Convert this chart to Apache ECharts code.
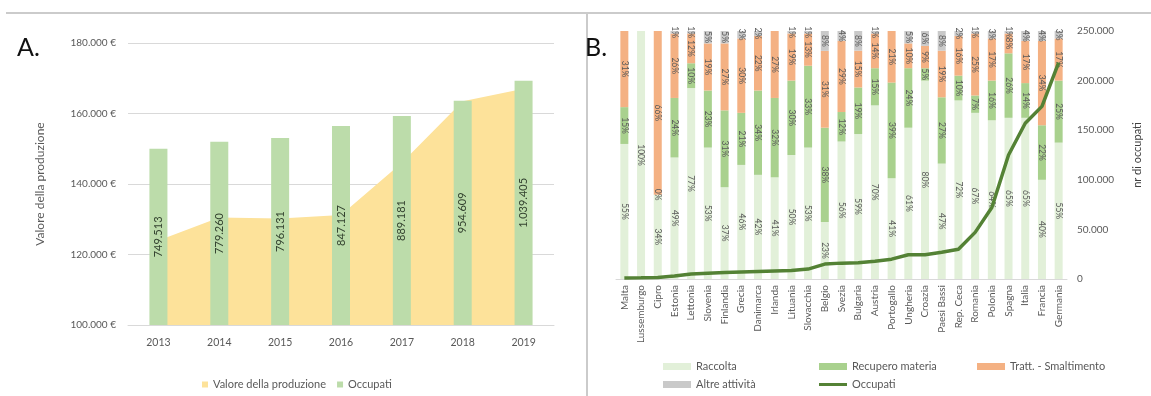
<!DOCTYPE html>
<html>
<head>
<meta charset="utf-8">
<script src="https://cdn.jsdelivr.net/npm/echarts@6/dist/echarts.min.js"></script>
<style>
  html, body { margin: 0; padding: 0; background: #ffffff; }
  #wrap { position: relative; width: 1151px; height: 396px; overflow: hidden; }
  #rule-top { position: absolute; left: 6px; top: 12px; width: 1145px; height: 0; border-top: 2px solid #cbcbcb; }
  #rule-mid { position: absolute; left: 586px; top: 12px; width: 0; height: 384px; border-left: 2px solid #cbcbcb; }
  #chartA { position: absolute; left: 0; top: 0; width: 584px; height: 396px; }
  #chartB { position: absolute; left: 578px; top: 0; width: 573px; height: 396px; }
</style>
</head>
<body>
<div id="wrap">
  <div id="rule-top"></div>
  <div id="rule-mid"></div>
  <div id="chartA"></div>
  <div id="chartB"></div>
</div>
<script>
// ---- Panel A: production value and employment, 2013-2019 ----
const anni = ['2013', '2014', '2015', '2016', '2017', '2018', '2019'];
const valoreProduzione = [124000, 130500, 130200, 131200, 146000, 163500, 167000];
const occupatiAnnui = [749513, 779260, 796131, 847127, 889181, 954609, 1039405];
const tickValore = [100000, 120000, 140000, 160000, 180000];

// ---- Panel B: share of employment by activity and employed persons per country ----
const paesi = ['Malta', 'Lussemburgo', 'Cipro', 'Estonia', 'Lettonia', 'Slovenia', 'Finlandia',
  'Grecia', 'Danimarca', 'Irlanda', 'Lituania', 'Slovacchia', 'Belgio', 'Svezia', 'Bulgaria',
  'Austria', 'Portogallo', 'Ungheria', 'Croazia', 'Paesi Bassi', 'Rep. Ceca', 'Romania',
  'Polonia', 'Spagna', 'Italia', 'Francia', 'Germania'];
const raccolta = [55, 100, 34, 49, 77, 53, 37, 46, 42, 41, 50, 53, 23, 56, 59, 70, 41, 61, 80, 47, 72, 67, 64, 65, 65, 40, 55];
const recupero = [15, null, 0, 24, 10, 23, 31, 21, 34, 32, 30, 33, 38, 12, 19, 15, 39, 24, 5, 27, 10, 7, 16, 26, 14, 22, 25];
const trattamento = [31, null, 66, 26, 12, 19, 27, 30, 22, 27, 19, 13, 31, 29, 15, 14, 21, 10, 9, 19, 16, 25, 17, 8, 17, 34, 17];
const altre = [null, null, null, 1, 1, 5, 5, 3, 2, null, 1, 1, 8, 4, 8, 1, null, 5, 6, 8, 2, 1, 3, 1, 4, 4, 3];
const occupatiPaese = [1000, 1200, 1500, 3000, 5000, 5800, 6500, 7000, 7500, 8000, 8500, 10000, 15000,
  16000, 16500, 18000, 20000, 24500, 24500, 27000, 30000, 47000, 72000, 125000, 157000, 174000, 218000];
const tickOccupati = [0, 50000, 100000, 150000, 200000, 250000];

const FONT = 'Lato, "Open Sans", sans-serif';
const GREY = '#595959';

function puntini(n) {
  return String(n).replace(/\B(?=(\d{3})+(?!\d))/g, '.');
}

// ---------------- Chart A ----------------
const chartA = echarts.init(document.getElementById('chartA'), null, { renderer: 'canvas' });
chartA.setOption({
  animation: false,
  textStyle: { fontFamily: FONT },
  title: {
    text: 'A.', left: 12, top: 30,
    textStyle: { fontSize: 25, fontWeight: 'normal', color: '#111', fontFamily: FONT }
  },
  legend: {
    left: 197, top: 374, icon: 'rect', itemWidth: 6, itemHeight: 6, itemGap: 11,
    selectedMode: false,
    textStyle: { fontSize: 11, color: GREY, fontFamily: FONT },
    data: ['Valore della produzione', 'Occupati']
  },
  grid: { left: 128, top: 43, width: 426, height: 282 },
  xAxis: {
    type: 'category', data: anni, boundaryGap: true,
    axisTick: { show: false },
    axisLine: { lineStyle: { color: '#d9d9d9', width: 1 } },
    axisLabel: { color: GREY, fontSize: 10.5, margin: 12, fontFamily: FONT }
  },
  yAxis: [
    {
      type: 'value', min: tickValore[0], max: tickValore[tickValore.length - 1], interval: 20000,
      name: 'Valore della produzione', nameLocation: 'middle', nameGap: 82, nameRotate: 90,
      nameTextStyle: { color: GREY, fontSize: 12, fontFamily: FONT },
      axisLine: { show: false }, axisTick: { show: false },
      axisLabel: { color: GREY, fontSize: 10, margin: 12, formatter: v => puntini(v) + ' €' },
      splitLine: { lineStyle: { color: '#d9d9d9', width: 1 } }
    },
    { type: 'value', min: 0, max: 1200000, show: false, splitLine: { show: false } }
  ],
  series: [
    {
      name: 'Valore della produzione', type: 'line', yAxisIndex: 0, data: valoreProduzione,
      showSymbol: false, symbol: 'none', z: 1,
      itemStyle: { color: '#fde29a' },
      lineStyle: { width: 0, color: '#fde29a' },
      areaStyle: { color: '#fde29a', opacity: 1, origin: 'start' }
    },
    {
      name: 'Occupati', type: 'bar', yAxisIndex: 1, data: occupatiAnnui, barWidth: 18, z: 3,
      itemStyle: { color: '#bcdcaa' },
      label: {
        show: true, position: 'inside', rotate: 90, fontSize: 11, color: '#33422f',
        fontFamily: FONT, formatter: p => puntini(p.value)
      }
    }
  ]
});

// ---------------- Chart B ----------------
const quote = [raccolta, recupero, trattamento, altre];
const totaliRiga = paesi.map((_, i) => quote.reduce((s, arr) => s + (arr[i] || 0), 0));
// 100% stacked: each share is scaled by its country's total
const normalizza = arr => arr.map((v, i) => v == null ? null : v * 100 / totaliRiga[i]);

const etichettaQuota = arr => ({
  show: true, position: 'inside', rotate: -90, fontSize: 8.5, color: '#5a5a5a',
  fontFamily: FONT, formatter: p => arr[p.dataIndex] + '%'
});

const nomiQuote = ['Raccolta', 'Recupero materia', 'Tratt. - Smaltimento', 'Altre attività'];
const coloriQuote = ['#e2f0d9', '#a9d18e', '#f4b183', '#c9c9c9'];

const serieQuote = quote.map((arr, k) => ({
  name: nomiQuote[k], type: 'bar', stack: 'quota', yAxisIndex: 0,
  data: normalizza(arr), barWidth: 8, z: 2,
  itemStyle: { color: coloriQuote[k] },
  label: etichettaQuota(arr)
}));

const legendaB = (name, left, top, extra) => Object.assign({
  data: [name], left: left, top: top, icon: 'rect', itemWidth: 28, itemHeight: 7,
  selectedMode: false,
  textStyle: { fontSize: 11, color: GREY, fontFamily: FONT }
}, extra || {});

const chartB = echarts.init(document.getElementById('chartB'), null, { renderer: 'canvas' });
chartB.setOption({
  animation: false,
  textStyle: { fontFamily: FONT },
  title: {
    text: 'B.', left: 2, top: 30,
    textStyle: { fontSize: 25, fontWeight: 'normal', color: '#111', fontFamily: FONT }
  },
  legend: [
    legendaB('Raccolta', 80, 356),
    legendaB('Recupero materia', 236, 356),
    legendaB('Tratt. - Smaltimento', 394, 356),
    legendaB('Altre attività', 80, 374),
    legendaB('Occupati', 236, 374, { itemHeight: 3 })
  ],
  grid: { left: 38, right: 77, top: 31, bottom: 117 },
  xAxis: {
    type: 'category', data: paesi, boundaryGap: true,
    axisTick: { show: false },
    axisLine: { lineStyle: { color: '#d9d9d9', width: 1 } },
    axisLabel: { rotate: 90, interval: 0, color: GREY, fontSize: 10, margin: 6, fontFamily: FONT }
  },
  yAxis: [
    { type: 'value', min: 0, max: 100, show: false, splitLine: { show: false } },
    {
      type: 'value', position: 'right', min: tickOccupati[0],
      max: tickOccupati[tickOccupati.length - 1], interval: 50000,
      name: 'nr di occupati', nameLocation: 'middle', nameGap: 65, nameRotate: 90,
      nameTextStyle: { color: '#404040', fontSize: 11, fontFamily: FONT },
      axisLine: { show: false }, axisTick: { show: false }, splitLine: { show: false },
      axisLabel: { color: GREY, fontSize: 10, margin: 10, formatter: v => puntini(v) }
    }
  ],
  series: serieQuote.concat([{
    name: 'Occupati', type: 'line', yAxisIndex: 1, data: occupatiPaese,
    showSymbol: false, symbol: 'none', z: 5,
    itemStyle: { color: '#548235' },
    lineStyle: { color: '#548235', width: 3.5 }
  }])
});
</script>
</body>
</html>
